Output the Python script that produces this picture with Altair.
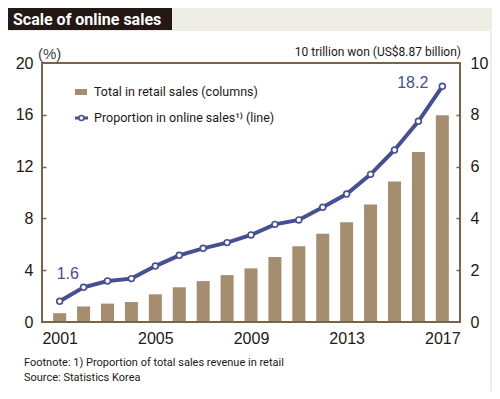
import altair as alt
import pandas as pd

# ---- data ----
years = list(range(2001, 2018))
retail_sales = [0.34, 0.60, 0.71, 0.77, 1.07, 1.34, 1.58, 1.81, 2.07, 2.51,
                2.92, 3.41, 3.85, 4.54, 5.42, 6.56, 7.98]          # 10 trillion won
online_share = [1.6, 2.68, 3.17, 3.35, 4.32, 5.15, 5.69, 6.13, 6.72, 7.54,
                7.88, 8.86, 9.88, 11.4, 13.28, 15.5, 18.2]          # %
x_ticks = [2001, 2005, 2009, 2013, 2017]
left_ticks = [0, 4, 8, 12, 16, 20]
right_ticks = [0, 2, 4, 6, 8, 10]
title_text = "Scale of online sales"
legend_labels = ["Total in retail sales (columns)", "Proportion in online sales\u00b9\u207e  (line)"]
left_unit = "(%)"
right_unit = "10 trillion won (US$8.87 billion)"
footnotes = ["Footnote: 1) Proportion of total sales revenue in retail", "Source: Statistics Korea"]

# ---- style ----
BG = "#efeee4"
INK = "#231815"
FRAME = "#7b6249"
BAR = "#a58d70"
LINE = "#454f93"
FONT = "Liberation Sans"
NARROW = "Liberation Sans Narrow, Roboto, sans-serif"
W, H = 418, 259

df = pd.DataFrame({"year": years, "retail": retail_sales, "online": online_share})
one = pd.DataFrame({"k": [0]})
base = alt.Chart(df)

X = alt.X("year:Q",
          scale=alt.Scale(domain=[2000.47, 2017.53], nice=False, zero=False),
          axis=alt.Axis(values=x_ticks, format="d", title=None, grid=False, ticks=False,
                        domain=False, labelFontSize=16, labelPadding=8, labelColor=INK,
                        labelFont=FONT, zindex=2))

ys_right = alt.Scale(domain=[0, 10], nice=False)
ys_left = alt.Scale(domain=[0, 20], nice=False)


def vtext(txt, x, y, size, color=INK, font=NARROW, align="left", weight="normal",
          baseline="middle"):
    d = pd.DataFrame({"label": [txt]})
    return alt.Chart(d).mark_text(align=align, baseline=baseline, fontSize=size,
                                  color=color, font=font, fontWeight=weight).encode(
        x=alt.value(x), y=alt.value(y), text=alt.Text("label:N"))


panel = alt.Chart(one).mark_rect(color="white").encode(
    x=alt.value(-35), x2=alt.value(448), y=alt.value(-32), y2=alt.value(330))
title_box = alt.Chart(one).mark_rect(color=INK).encode(
    x=alt.value(-42), x2=alt.value(130), y=alt.value(-55), y2=alt.value(-33))
title = vtext(title_text, -29, -38, 16, color="white", weight="bold", baseline="alphabetic")

bars = base.mark_bar(color=BAR, width=13).encode(
    x=X,
    y=alt.Y("retail:Q", scale=ys_right,
            axis=alt.Axis(orient="right", values=right_ticks, title=None, grid=False,
                          ticks=False, domain=False, labelFontSize=16, labelPadding=10,
                          labelColor=INK, labelFont=FONT, zindex=2)))

right_tick_layer = base.mark_bar(opacity=0).encode(
    x=X,
    y=alt.Y("retail:Q", scale=ys_right,
            axis=alt.Axis(orient="right", values=[2, 4, 6, 8], title=None, grid=False,
                          labels=False, domain=False, ticks=True, tickSize=4,
                          tickColor=FRAME, tickWidth=1.5, offset=-4, zindex=2)))

frame = alt.Chart(one).mark_rect(fill=None, stroke=FRAME, strokeWidth=2).encode(
    x=alt.value(0), x2=alt.value(W), y=alt.value(0), y2=alt.value(H))

line = base.mark_line(color=LINE, strokeWidth=4).encode(
    x=X,
    y=alt.Y("online:Q", scale=ys_left,
            axis=alt.Axis(orient="left", values=left_ticks, title=None, grid=False,
                          ticks=False, domain=False, labelFontSize=16, labelPadding=9,
                          labelColor=INK, labelFont=FONT, zindex=2)))

points = base.mark_point(shape="circle", fill="white", stroke=LINE, strokeWidth=1.6,
                         size=34, opacity=1, fillOpacity=1).encode(
    x=X,
    y=alt.Y("online:Q", scale=ys_left,
            axis=alt.Axis(orient="left", values=[4, 8, 12, 16], title=None, grid=False,
                          labels=False, domain=False, ticks=True, tickSize=4,
                          tickColor=FRAME, tickWidth=1.5, offset=-4, zindex=2)))

ann_first = base.transform_filter(alt.datum.year == years[0]).mark_text(
    align="left", baseline="middle", fontSize=16, color=LINE, font=FONT, dx=-3, dy=-27).encode(
    x=X, y=alt.Y("online:Q", scale=ys_left, axis=None), text=alt.Text("online:Q", format=".1f"))
ann_last = base.transform_filter(alt.datum.year == years[-1]).mark_text(
    align="right", baseline="middle", fontSize=16, color=LINE, font=FONT, dx=-14, dy=-3).encode(
    x=X, y=alt.Y("online:Q", scale=ys_left, axis=None), text=alt.Text("online:Q", format=".1f"))

leg_swatch = alt.Chart(one).mark_rect(color=BAR).encode(
    x=alt.value(33), x2=alt.value(45), y=alt.value(26), y2=alt.value(32))
leg_line = alt.Chart(one).mark_rule(color=LINE, strokeWidth=3).encode(
    x=alt.value(33), x2=alt.value(46), y=alt.value(55))
leg_pt = alt.Chart(one).mark_point(shape="circle", fill="white", stroke=LINE, strokeWidth=1.5,
                                   size=26, opacity=1, fillOpacity=1).encode(
    x=alt.value(39.5), y=alt.value(55))
leg_t1 = vtext(legend_labels[0], 52, 29, 12.5)
leg_t2 = vtext(legend_labels[1], 52, 55, 12.5)

unit_l = vtext(left_unit, -4, -9, 15, color="#444444", font=FONT)
unit_r = vtext(right_unit, 419, -11, 12, align="right")
foot1 = vtext(footnotes[0], -18, 300, 11)
foot2 = vtext(footnotes[1], -18, 315, 11)

chart = alt.layer(
    panel, title_box, title, bars, right_tick_layer, frame, line, points,
    ann_first, ann_last, leg_swatch, leg_line, leg_pt, leg_t1, leg_t2,
    unit_l, unit_r, foot1, foot2
).resolve_scale(y="independent").properties(
    width=W, height=H,
    padding={"left": 34, "top": 55, "right": 32, "bottom": 69},
    autosize=alt.AutoSizeParams(type="none"),
    background=BG,
).configure_view(stroke=None)

chart.save("out.html", embed_options={"renderer": "svg", "actions": False})
